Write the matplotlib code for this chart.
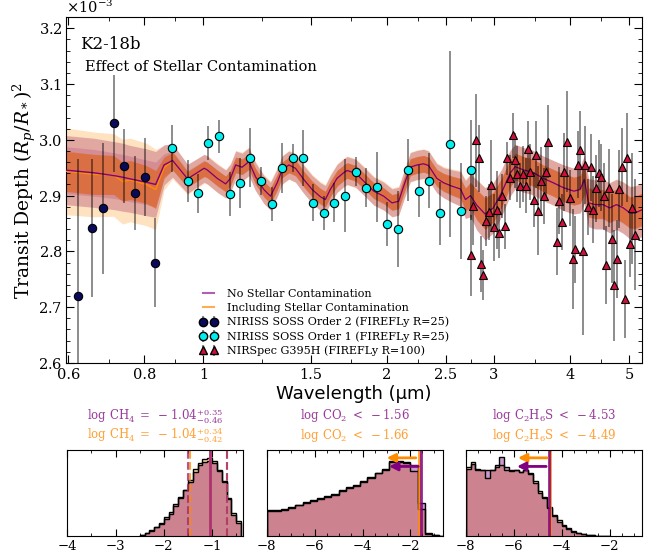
import numpy as np
import matplotlib
matplotlib.use("Agg")
import matplotlib.pyplot as plt
from matplotlib.ticker import FixedLocator, FixedFormatter, MultipleLocator, NullLocator
import matplotlib.transforms as mtransforms

plt.rcParams['font.family'] = 'serif'
plt.rcParams['font.serif'] = ['DejaVu Serif']
plt.rcParams['mathtext.fontset'] = 'dejavuserif'

# ---- observed spectrum (transit depth in units of 1e-3) ----
o2_wl = [0.623, 0.657, 0.685, 0.712, 0.741, 0.771, 0.802, 0.834]
o2_depth = [2.720, 2.842, 2.877, 3.030, 2.953, 2.905, 2.934, 2.780]
o2_err = [0.246, 0.124, 0.118, 0.087, 0.066, 0.066, 0.070, 0.080]

o1_wl = [0.887, 0.942, 0.979, 1.019, 1.061, 1.105, 1.148, 1.194, 1.243, 1.296,
         1.347, 1.401, 1.458, 1.516, 1.577, 1.641, 1.707, 1.780, 1.852, 1.926,
         2.005, 2.085, 2.168, 2.258, 2.350, 2.446, 2.544, 2.645, 2.754]
o1_depth = [2.985, 2.926, 2.904, 2.994, 3.006, 2.903, 2.923, 2.968, 2.926, 2.885,
            2.950, 2.967, 2.967, 2.887, 2.869, 2.887, 2.900, 2.943, 2.914, 2.915,
            2.849, 2.840, 2.946, 2.908, 2.927, 2.868, 2.992, 2.873, 2.946]
o1_err = [0.042, 0.037, 0.035, 0.030, 0.029, 0.040, 0.045, 0.053, 0.025, 0.031,
          0.045, 0.025, 0.050, 0.033, 0.030, 0.035, 0.066, 0.026, 0.035, 0.063,
          0.040, 0.068, 0.055, 0.047, 0.050, 0.057, 0.167, 0.086, 0.090]

ns_wl = [2.750, 2.771, 2.799, 2.831, 2.856, 2.881, 2.914, 2.947, 2.970, 3.003,
         3.034, 3.061, 3.096, 3.127, 3.155, 3.187, 3.219, 3.247, 3.280, 3.309,
         3.346, 3.381, 3.410, 3.445, 3.485, 3.516, 3.550, 3.587, 3.622, 3.659,
         3.683, 3.804, 3.843, 3.881, 3.916, 3.951, 3.996, 4.043, 4.073, 4.120,
         4.162, 4.199, 4.240, 4.282, 4.326, 4.370, 4.414, 4.459, 4.505, 4.545,
         4.590, 4.636, 4.683, 4.725, 4.772, 4.822, 4.869, 4.919, 4.969, 5.018,
         5.064, 5.108]
ns_depth = [2.793, 2.881, 2.999, 2.967, 2.777, 2.758, 2.854, 2.871, 2.919, 2.843,
            2.875, 2.833, 2.899, 2.845, 2.967, 2.932, 3.008, 2.963, 2.939, 2.918,
            2.939, 2.918, 2.983, 2.943, 2.893, 2.973, 2.873, 2.927, 2.899, 2.942,
            2.997, 2.817, 2.891, 2.852, 2.942, 2.997, 2.896, 2.786, 2.804, 2.955,
            2.982, 2.800, 2.955, 2.880, 2.951, 2.875, 2.913, 2.940, 2.933, 2.899,
            2.775, 2.913, 2.823, 2.739, 2.786, 2.912, 2.952, 2.714, 2.968, 2.814,
            2.877, 2.830]
ns_err = [0.073, 0.070, 0.083, 0.060, 0.050, 0.045, 0.045, 0.050, 0.080, 0.060,
          0.070, 0.045, 0.040, 0.040, 0.030, 0.040, 0.040, 0.050, 0.050, 0.040,
          0.050, 0.050, 0.050, 0.050, 0.050, 0.060, 0.080, 0.060, 0.050, 0.050,
          0.066, 0.060, 0.060, 0.050, 0.070, 0.090, 0.050, 0.090, 0.060, 0.060,
          0.070, 0.150, 0.070, 0.050, 0.060, 0.060, 0.060, 0.060, 0.060, 0.060,
          0.070, 0.070, 0.080, 0.100, 0.070, 0.070, 0.070, 0.070, 0.080, 0.060,
          0.100, 0.100]

# ---- retrieved models ----
model_wl = [0.590, 0.660, 0.712, 0.737, 0.758, 0.806, 0.835, 0.862, 0.890, 0.942,
            1.003, 1.015, 1.054, 1.088, 1.108, 1.130, 1.158, 1.188, 1.218, 1.257,
            1.289, 1.322, 1.347, 1.382, 1.417, 1.462, 1.509, 1.557, 1.586, 1.616,
            1.658, 1.700, 1.722, 1.779, 1.834, 1.905, 1.978, 2.041, 2.093, 2.133,
            2.187, 2.244, 2.300, 2.343, 2.418, 2.481, 2.561, 2.644, 2.694, 2.746,
            2.812, 2.902, 2.993, 3.088, 3.189, 3.251, 3.355, 3.443, 3.524, 3.616,
            3.755, 3.906, 4.060, 4.159, 4.223, 4.292, 4.400, 4.531, 4.648, 4.769,
            4.894, 5.018, 5.117, 5.260]
model_nostel = [2.946, 2.941, 2.936, 2.933, 2.930, 2.924, 2.920, 2.955, 2.963, 2.930,
                2.949, 2.946, 2.931, 2.921, 2.931, 2.955, 2.951, 2.961, 2.934, 2.911,
                2.899, 2.923, 2.946, 2.955, 2.949, 2.929, 2.911, 2.898, 2.893, 2.911,
                2.931, 2.941, 2.945, 2.940, 2.926, 2.908, 2.899, 2.887, 2.890, 2.917,
                2.951, 2.955, 2.957, 2.954, 2.931, 2.923, 2.917, 2.912, 2.893, 2.900,
                2.883, 2.867, 2.878, 2.905, 2.940, 2.952, 2.946, 2.943, 2.938, 2.931,
                2.923, 2.914, 2.908, 2.911, 2.929, 2.887, 2.884, 2.884, 2.878, 2.884,
                2.878, 2.869, 2.869, 2.875]
model_stel = [2.944, 2.938, 2.937, 2.925, 2.928, 2.920, 2.911, 2.950, 2.962, 2.929,
              2.948, 2.946, 2.932, 2.921, 2.932, 2.955, 2.952, 2.961, 2.935, 2.912,
              2.900, 2.924, 2.946, 2.955, 2.950, 2.930, 2.912, 2.899, 2.894, 2.912,
              2.931, 2.941, 2.945, 2.940, 2.927, 2.909, 2.900, 2.888, 2.891, 2.917,
              2.951, 2.955, 2.957, 2.954, 2.932, 2.924, 2.918, 2.913, 2.894, 2.901,
              2.884, 2.868, 2.879, 2.905, 2.940, 2.952, 2.946, 2.943, 2.938, 2.931,
              2.923, 2.914, 2.908, 2.911, 2.928, 2.888, 2.885, 2.885, 2.879, 2.885,
              2.879, 2.870, 2.870, 2.876]
sig1 = [0.042, 0.042, 0.041, 0.041, 0.041, 0.040, 0.040, 0.020, 0.017, 0.015,
        0.014, 0.014, 0.014, 0.014, 0.014, 0.014, 0.014, 0.014, 0.014, 0.014,
        0.014, 0.014, 0.014, 0.014, 0.014, 0.014, 0.014, 0.014, 0.014, 0.014,
        0.014, 0.014, 0.014, 0.014, 0.014, 0.014, 0.014, 0.014, 0.014, 0.014,
        0.015, 0.015, 0.015, 0.015, 0.015, 0.016, 0.017, 0.018, 0.020, 0.023,
        0.027, 0.028, 0.027, 0.026, 0.025, 0.024, 0.024, 0.024, 0.024, 0.024,
        0.024, 0.025, 0.025, 0.025, 0.026, 0.026, 0.026, 0.026, 0.027, 0.027,
        0.028, 0.028, 0.029, 0.029]
sig1_stel = [0.036, 0.036, 0.035, 0.035, 0.035, 0.034, 0.034, 0.019, 0.016, 0.014,
             0.014, 0.014, 0.014, 0.014, 0.014, 0.014, 0.014, 0.014, 0.014, 0.014,
             0.014, 0.014, 0.014, 0.014, 0.014, 0.014, 0.014, 0.014, 0.014, 0.014,
             0.014, 0.014, 0.014, 0.014, 0.014, 0.014, 0.014, 0.014, 0.014, 0.014,
             0.015, 0.015, 0.015, 0.015, 0.015, 0.016, 0.017, 0.018, 0.020, 0.023,
             0.027, 0.028, 0.027, 0.026, 0.025, 0.024, 0.024, 0.024, 0.024, 0.024,
             0.024, 0.025, 0.025, 0.025, 0.026, 0.026, 0.026, 0.026, 0.027, 0.027,
             0.028, 0.028, 0.029, 0.029]
sig2_nostel = [0.062, 0.062, 0.061, 0.061, 0.060, 0.060, 0.059, 0.036, 0.030, 0.026,
               0.025, 0.025, 0.025, 0.025, 0.025, 0.025, 0.025, 0.025, 0.025, 0.025,
               0.025, 0.025, 0.025, 0.025, 0.025, 0.025, 0.025, 0.025, 0.025, 0.025,
               0.025, 0.025, 0.025, 0.025, 0.025, 0.025, 0.025, 0.025, 0.025, 0.025,
               0.026, 0.026, 0.026, 0.026, 0.026, 0.027, 0.029, 0.031, 0.034, 0.038,
               0.045, 0.047, 0.045, 0.042, 0.041, 0.040, 0.040, 0.040, 0.040, 0.040,
               0.040, 0.041, 0.041, 0.042, 0.043, 0.043, 0.044, 0.044, 0.045, 0.045,
               0.046, 0.047, 0.048, 0.048]
sig2_stel = [0.078, 0.076, 0.074, 0.076, 0.075, 0.074, 0.072, 0.040, 0.032, 0.027,
             0.026, 0.026, 0.026, 0.026, 0.026, 0.026, 0.026, 0.026, 0.026, 0.026,
             0.026, 0.026, 0.026, 0.026, 0.026, 0.026, 0.026, 0.026, 0.026, 0.026,
             0.026, 0.026, 0.026, 0.026, 0.026, 0.026, 0.026, 0.026, 0.026, 0.026,
             0.027, 0.027, 0.027, 0.027, 0.027, 0.028, 0.030, 0.032, 0.035, 0.039,
             0.045, 0.047, 0.045, 0.042, 0.041, 0.040, 0.040, 0.040, 0.040, 0.040,
             0.040, 0.041, 0.041, 0.042, 0.043, 0.043, 0.044, 0.044, 0.045, 0.045,
             0.046, 0.047, 0.048, 0.048]

# ---- posteriors ----
ch4_edges = np.linspace(-2.5, -0.4, 22)
ch4_nostel = [2, 9, 17, 28, 40, 56, 72, 96, 118, 137, 163, 193, 212, 222, 224, 218, 195, 162, 110, 62, 38]
ch4_stel = [2, 8, 15, 26, 36, 50, 67, 90, 114, 137, 167, 200, 218, 229, 234, 224, 198, 166, 115, 70, 46]

co2_edges = np.linspace(-8, -0.5, 26)
co2_nostel = [75, 76, 79, 85, 92, 99, 106, 111, 116, 124, 136, 143, 151, 163, 174, 189, 200, 222, 224, 220, 212, 98, 6, 2, 0]
co2_stel = [77, 78, 82, 86, 94, 101, 108, 113, 119, 127, 139, 146, 153, 165, 176, 190, 199, 224, 220, 217, 196, 80, 8, 3, 0]

c2h6s_edges = np.linspace(-8, -2, 31)
c2h6s_nostel = [202, 215, 200, 199, 197, 197, 212, 237, 205, 197, 197, 192, 199, 187, 160,
                130, 113, 83, 60, 43, 30, 20, 12, 8, 5, 3, 2, 1, 1, 0]
c2h6s_stel = [205, 222, 197, 199, 175, 197, 205, 212, 197, 195, 197, 192, 199, 189, 165,
              135, 118, 88, 64, 47, 34, 23, 14, 9, 5, 3, 2, 1, 1, 1]

ch4_med, ch4_lo, ch4_hi = [-1.04, -1.04], [0.46, 0.42], [0.35, 0.34]
co2_lim = [-1.56, -1.66]
c2h6s_lim = [-4.53, -4.49]

c_purple = '#800080'
c_orange = 'darkorange'
c_txt_purple = '#9a3a9a'
c_txt_orange = '#ffa033'

sc = 1e-3
fig = plt.figure(figsize=(6.57, 5.54), dpi=100)
ax = fig.add_axes([0.1005, 0.345, 0.8765, 0.624])

mw = np.array(model_wl)
# purple (no contamination) underneath, orange on top
for med, s2, s1, c2, c1, a2, a1 in [(model_nostel, sig2_nostel, sig1, c_purple, c_purple, 0.3, 0.2),
                                    (model_stel, sig2_stel, sig1_stel, c_orange, '#e0601a', 0.25, 0.65)]:
    med = np.array(med)
    ax.fill_between(mw, (med - np.array(s2)) * sc, (med + np.array(s2)) * sc, color=c2, alpha=a2, lw=0)
    ax.fill_between(mw, (med - np.array(s1)) * sc, (med + np.array(s1)) * sc, color=c1, alpha=a1, lw=0)

ax.plot(mw, np.array(model_stel) * sc, color=c_orange, lw=1.0, zorder=3)
ax.plot(mw, np.array(model_nostel) * sc, color=c_purple, lw=1.0, zorder=3)

eb = dict(fmt='none', ecolor='k', alpha=0.45, elinewidth=1.4, capsize=0, zorder=4)
ax.errorbar(o2_wl, np.array(o2_depth) * sc, yerr=np.array(o2_err) * sc, **eb)
ax.errorbar(o1_wl, np.array(o1_depth) * sc, yerr=np.array(o1_err) * sc, **eb)
ax.errorbar(ns_wl, np.array(ns_depth) * sc, yerr=np.array(ns_err) * sc, **eb)
ax.plot(o2_wl, np.array(o2_depth) * sc, 'o', color='#0a0a5a', mec='k', mew=0.8, ms=6, zorder=5)
ax.plot(o1_wl, np.array(o1_depth) * sc, 'o', color='#00eeee', mec='k', mew=0.8, ms=6, zorder=5)
ax.plot(ns_wl, np.array(ns_depth) * sc, '^', color='#d0103a', mec='k', mew=0.8, ms=6, zorder=5)

ax.set_xscale('log')
ax.set_xlim(0.595, 5.25)
ax.set_ylim(2.6e-3, 3.22e-3)
xt = [0.6, 0.8, 1, 1.5, 2, 2.5, 3, 4, 5]
ax.xaxis.set_major_locator(FixedLocator(xt))
ax.xaxis.set_major_formatter(FixedFormatter(['0.6', '0.8', '1', '1.5', '2', '2.5', '3', '4', '5']))
ax.xaxis.set_minor_locator(FixedLocator([0.7, 0.9, 1.25, 1.75, 2.25, 2.75, 3.5, 4.5]))
ax.xaxis.set_minor_formatter(FixedFormatter([]))
ax.yaxis.set_major_locator(MultipleLocator(0.1e-3))
ax.yaxis.set_minor_locator(MultipleLocator(0.02e-3))
ax.ticklabel_format(axis='y', style='sci', scilimits=(0, 0), useMathText=True)
ax.tick_params(which='both', direction='in', top=True, right=True, labelsize=10.5)
ax.tick_params(axis='y', pad=2.5)
ax.tick_params(which='major', length=6)
ax.tick_params(which='minor', length=3)
ax.yaxis.get_offset_text().set_fontsize(10.5)
ax.set_xlabel('Wavelength (μm)', fontsize=13, family='DejaVu Sans', labelpad=2)
ax.set_ylabel(r'Transit Depth $(R_p/R_*)^2$', fontsize=13.5, labelpad=0)

ax.text(0.024, 0.945, 'K2-18b', transform=ax.transAxes, fontsize=12, va='top')
ax.text(0.033, 0.875, 'Effect of Stellar Contamination', transform=ax.transAxes, fontsize=10.5, va='top')

h1, = ax.plot([], [], color='#b060b0', lw=1.5)
h2, = ax.plot([], [], color='#ffad55', lw=1.5)
h3 = ax.errorbar([], [], yerr=[], fmt='o', color='#0a0a5a', mec='k', ecolor='#888888', ms=6)
h4 = ax.errorbar([], [], yerr=[], fmt='o', color='#00eeee', mec='k', ecolor='#888888', ms=6)
h5 = ax.errorbar([], [], yerr=[], fmt='^', color='#d0103a', mec='k', ecolor='#888888', ms=6)
ax.legend([h1, h2, h3, h4, h5],
          ['No Stellar Contamination', 'Including Stellar Contamination',
           'NIRISS SOSS Order 2 (FIREFLy R=25)', 'NIRISS SOSS Order 1 (FIREFLy R=25)',
           'NIRSpec G395H (FIREFLy R=100)'],
          loc='lower left', bbox_to_anchor=(0.215, -0.01), frameon=False, fontsize=8,
          numpoints=2, handlelength=1.6, labelspacing=0.35)

# ---- posterior panels ----
panels = [
    (0.1025, ch4_edges, ch4_nostel, ch4_stel, (-4, -0.35), [-4, -3, -2, -1],
     [r'$\mathrm{log\ CH_4}\ =\ -1.04^{+0.35}_{-0.46}$', r'$\mathrm{log\ CH_4}\ =\ -1.04^{+0.34}_{-0.42}$']),
    (0.406, co2_edges, co2_nostel, co2_stel, (-8, -0.65), [-8, -6, -4, -2],
     [r'$\mathrm{log\ CO_2}\ <\ -1.56$', r'$\mathrm{log\ CO_2}\ <\ -1.66$']),
    (0.709, c2h6s_edges, c2h6s_nostel, c2h6s_stel, (-8, -0.65), [-8, -6, -4, -2],
     [r'$\mathrm{log\ C_2H_6S}\ <\ -4.53$', r'$\mathrm{log\ C_2H_6S}\ <\ -4.49$']),
]
hax = []
for left, edges, cn, cs, xl, ticks, titles in panels:
    a = fig.add_axes([left, 0.0325, 0.268, 0.155])
    a.stairs(cs, edges, fill=True, color='orange', alpha=0.4)
    a.stairs(cn, edges, fill=True, color=c_purple, alpha=0.4)
    a.stairs(cs, edges, color='k', lw=1.0)
    a.stairs(cn, edges, color='k', lw=1.0)
    a.set_xlim(*xl)
    a.set_ylim(0, 257)
    a.set_xticks(ticks)
    a.xaxis.set_minor_locator(MultipleLocator(0.5))
    a.yaxis.set_major_locator(NullLocator())
    a.tick_params(which='both', direction='in', top=True, labelsize=9.5, pad=3)
    a.tick_params(which='major', length=5)
    a.tick_params(which='minor', length=2.5)
    a.text(0.5, 1.40, titles[0], transform=a.transAxes, ha='center', va='center',
           color=c_txt_purple, fontsize=8.5)
    a.text(0.5, 1.17, titles[1], transform=a.transAxes, ha='center', va='center',
           color=c_txt_orange, fontsize=8.5)
    hax.append(a)

a = hax[0]
for med, lo, hi, col in [(ch4_med[1], ch4_lo[1], ch4_hi[1], c_orange), (ch4_med[0], ch4_lo[0], ch4_hi[0], '#a02a80')]:
    a.axvline(med, color=col, lw=2, alpha=0.9)
    a.axvline(med - lo, color=col, lw=1.5, ls='--', alpha=0.8)
    a.axvline(med + hi, color=col, lw=1.5, ls='--', alpha=0.8)

for a, lims in [(hax[1], co2_lim), (hax[2], c2h6s_lim)]:
    trans = mtransforms.blended_transform_factory(a.transData, a.transAxes)
    for lim, col, yy in [(lims[1], c_orange, 0.91), (lims[0], c_purple, 0.81)]:
        a.axvline(lim, color=col, lw=2, alpha=0.85)
        a.annotate('', xy=(lim - 1.45, yy), xytext=(lim, yy), xycoords=trans, textcoords=trans,
                   arrowprops=dict(arrowstyle='-|>,head_width=0.25,head_length=0.5', color=col, lw=2))

fig.savefig('out.png', dpi=100)
